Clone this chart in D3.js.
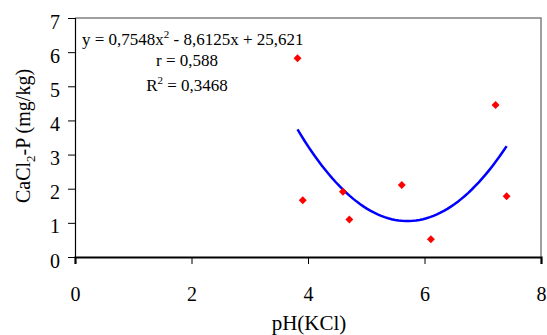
<!DOCTYPE html>
<html>
<head>
<meta charset="utf-8">
<script src="https://d3js.org/d3.v7.min.js"></script>
<style>
  body { margin: 0; background: #fff; }
  svg text { font-family: "Liberation Serif", "DejaVu Serif", serif !important; fill: #000; }
</style>
</head>
<body>
<div class="main"></div>
<script>
// measured points, pH(KCl) vs CaCl2-P
var phValues = [3.82, 3.91, 4.6, 4.71, 5.61, 6.11, 7.22, 7.41];
var pValues = [5.82, 1.66, 1.91, 1.10, 2.11, 0.52, 4.45, 1.78];
// trendline y = a x^2 + b x + c
var trendCoef = [0.7548, -8.6125, 25.621];
var xTicks = [0, 2, 4, 6, 8];
var yTicks = [0, 1, 2, 3, 4, 5, 6, 7];

var width = 547, height = 335;
var serif = "'Liberation Serif', 'DejaVu Serif', serif";

var svg = d3.select("div.main").append("svg")
  .attr("width", width)
  .attr("height", height);

var x = d3.scaleLinear().domain([0, 8]).range([75, 541]);
var y = d3.scaleLinear().domain([0, 7]).range([257, 18]);

// frame top + right (grey)
svg.append("path")
  .attr("d", "M" + x(0) + "," + y(7) + "H" + x(8) + "V" + y(0))
  .attr("fill", "none")
  .attr("stroke", "#808080")
  .attr("stroke-width", 1.5);

// y axis
var yAxis = svg.append("g")
  .attr("transform", "translate(" + x(0) + ",0)")
  .call(d3.axisLeft(y).tickValues(yTicks).tickFormat(d3.format("d")).tickSize(7).tickPadding(8));
yAxis.attr("font-family", serif);
yAxis.select(".domain").attr("stroke", "#000").attr("stroke-width", 1.2);
yAxis.selectAll(".tick line").attr("stroke", "#000");
yAxis.selectAll(".tick text")
  .attr("font-size", 20)
  .attr("dy", "0.5em");

// x axis
var xAxis = svg.append("g")
  .attr("transform", "translate(0," + y(0) + ")")
  .call(d3.axisBottom(x).tickValues(xTicks).tickFormat(d3.format("d")).tickSize(7).tickPadding(23));
xAxis.attr("font-family", serif);
xAxis.select(".domain").attr("stroke", "#000").attr("stroke-width", 2.2);
xAxis.selectAll(".tick line").attr("stroke", "#000");
xAxis.selectAll(".tick text")
  .attr("font-size", 20);

// trend curve
var x0 = d3.min(phValues), x1 = d3.max(phValues);
var xs = d3.range(0, 61).map(function(i) { return x0 + (x1 - x0) * i / 60; });
var line = d3.line()
  .x(function(d) { return x(d); })
  .y(function(d) { return y(trendCoef[0] * d * d + trendCoef[1] * d + trendCoef[2]); });
svg.append("path")
  .datum(xs)
  .attr("d", line)
  .attr("fill", "none")
  .attr("stroke", "#0000ff")
  .attr("stroke-width", 2.5);

// points
svg.selectAll(".pt")
  .data(phValues)
  .enter().append("path")
  .attr("class", "pt")
  .attr("d", d3.symbol().type(d3.symbolDiamond2).size(40))
  .attr("transform", function(d, i) { return "translate(" + x(d) + "," + y(pValues[i]) + ")"; })
  .attr("fill", "#ff0000");

// equation text
var eq = svg.append("text")
  .attr("x", 82).attr("y", 45)
  .attr("font-size", 17);
eq.append("tspan").text("y = 0,7548x");
eq.append("tspan").attr("font-size", 11).attr("dy", -7).text("2");
eq.append("tspan").attr("dy", 7).text(" - 8,6125x + 25,621");

svg.append("text")
  .attr("x", 187).attr("y", 66)
  .attr("text-anchor", "middle")
  .attr("font-size", 17)
  .text("r = 0,588");

var r2 = svg.append("text")
  .attr("x", 187).attr("y", 91)
  .attr("text-anchor", "middle")
  .attr("font-size", 17);
r2.append("tspan").text("R");
r2.append("tspan").attr("font-size", 11).attr("dy", -7).text("2");
r2.append("tspan").attr("dy", 7).text(" = 0,3468");

// axis titles
svg.append("text")
  .attr("x", 309).attr("y", 330)
  .attr("text-anchor", "middle")
  .attr("font-size", 21)
  .text("pH(KCl)");

var yt = svg.append("text")
  .attr("transform", "translate(30,136) rotate(-90)")
  .attr("text-anchor", "middle")
  .attr("font-size", 20);
yt.append("tspan").text("CaCl");
yt.append("tspan").attr("font-size", 13).attr("dy", 5).text("2");
yt.append("tspan").attr("dy", -5).text("-P (mg/kg)");
</script>
</body>
</html>
